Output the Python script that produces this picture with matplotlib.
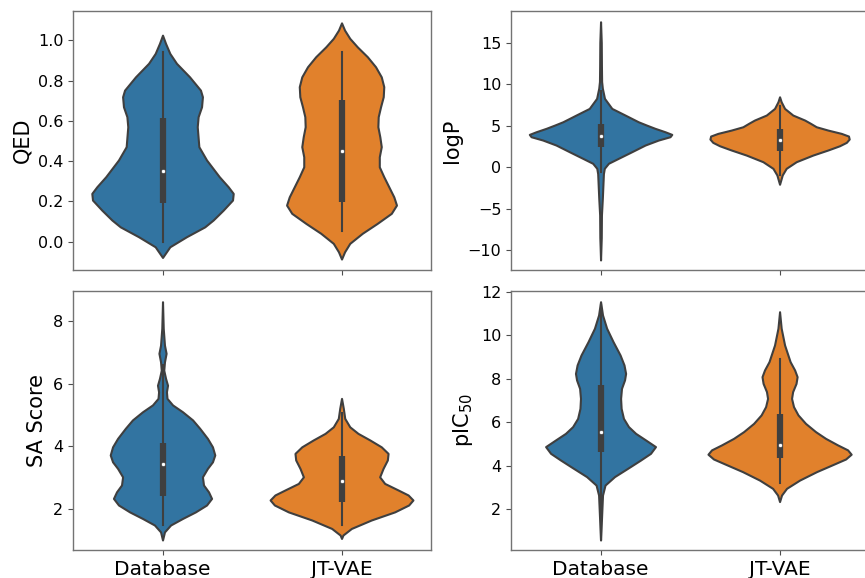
import numpy as np
import matplotlib
matplotlib.use("Agg")
from matplotlib import pyplot as plt

categories = ["Database", "JT-VAE"]
colors = ["#3274a1", "#e1812c"]
gray = "#3f3f3f"

# violin outlines: value levels and half widths (x units)
qed_db_y = [1.026, 0.985, 0.935, 0.886, 0.819, 0.753, 0.72, 0.67, 0.621, 0.571,
            0.472, 0.406, 0.323, 0.273, 0.24, 0.207, 0.157, 0.108, 0.074, 0.025,
            -0.025, -0.078]
qed_db_w = [0, 0.017, 0.041, 0.078, 0.151, 0.212, 0.223, 0.218, 0.199, 0.194,
            0.203, 0.246, 0.317, 0.367, 0.395, 0.391, 0.339, 0.283, 0.236, 0.134,
            0.041, 0]
qed_jt_y = [1.087, 1.051, 1.01, 0.968, 0.919, 0.869, 0.819, 0.77, 0.72, 0.67,
            0.621, 0.571, 0.521, 0.472, 0.422, 0.372, 0.323, 0.273, 0.223, 0.182,
            0.141, 0.091, 0.042, -0.008, -0.05, -0.086]
qed_jt_w = [0, 0.017, 0.046, 0.088, 0.144, 0.19, 0.222, 0.236, 0.233, 0.218,
            0.205, 0.203, 0.214, 0.222, 0.211, 0.211, 0.236, 0.264, 0.292, 0.307,
            0.278, 0.199, 0.116, 0.046, 0.017, 0]

logp_db_y = [17.5, 15, 12, 10.3, 9.5, 8.27, 7.06, 6.26, 5.45, 5.05, 4.66, 4.25,
             3.93, 3.65, 3.25, 2.65, 1.84, 1.04, 0.45, -0.16, -0.8, -1.77, -3.77,
             -5.78, -8.5, -11.2]
logp_db_w = [0, 0.004, 0.005, 0.006, 0.01, 0.022, 0.063, 0.137, 0.211, 0.257,
             0.304, 0.36, 0.398, 0.388, 0.323, 0.249, 0.174, 0.099, 0.044, 0.021,
             0.016, 0.014, 0.01, 0.005, 0.004, 0]
logp_jt_y = [8.46, 7.86, 7.06, 6.26, 5.66, 5.26, 4.85, 4.45, 4.05, 3.73, 3.37,
             2.97, 2.56, 2.05, 1.44, 0.64, -0.16, -0.96, -1.56, -2.08]
logp_jt_w = [0, 0.009, 0.028, 0.074, 0.14, 0.173, 0.205, 0.27, 0.345, 0.385,
             0.389, 0.373, 0.335, 0.27, 0.186, 0.093, 0.037, 0.015, 0.007, 0]

sa_db_y = [8.62, 7.77, 7.23, 6.97, 6.7, 6.43, 6.17, 5.95, 5.74, 5.53, 5.32, 5.1,
           4.84, 4.57, 4.25, 3.98, 3.72, 3.5, 3.29, 3.02, 2.76, 2.54, 2.33, 2.12,
           1.9, 1.69, 1.48, 1.26, 1.0]
sa_db_w = [0, 0.004, 0.011, 0.02, 0.011, 0.007, 0.017, 0.028, 0.022, 0.025,
           0.056, 0.112, 0.168, 0.208, 0.251, 0.279, 0.292, 0.279, 0.251, 0.223,
           0.229, 0.257, 0.274, 0.246, 0.184, 0.112, 0.045, 0.011, 0]
sa_jt_y = [5.53, 5.21, 4.89, 4.62, 4.41, 4.2, 3.98, 3.77, 3.56, 3.29, 3.02, 2.81,
           2.6, 2.44, 2.28, 2.12, 1.9, 1.64, 1.37, 1.16, 1.05]
sa_jt_w = [0, 0.01, 0.018, 0.046, 0.092, 0.158, 0.222, 0.26, 0.256, 0.232,
           0.213, 0.241, 0.316, 0.372, 0.399, 0.375, 0.297, 0.166, 0.055, 0.008, 0]

pic_db_y = [11.54, 10.93, 10.32, 9.7, 9.09, 8.63, 8.24, 7.94, 7.55, 7.09, 6.63,
            6.17, 5.79, 5.48, 5.18, 4.87, 4.56, 4.25, 3.87, 3.49, 3.1, 2.64, 1.88,
            1.11, 0.57]
pic_db_w = [0, 0.011, 0.034, 0.07, 0.109, 0.131, 0.14, 0.134, 0.117, 0.112,
            0.115, 0.128, 0.156, 0.196, 0.251, 0.307, 0.279, 0.223, 0.151, 0.078,
            0.025, 0.011, 0.007, 0.003, 0]
pic_jt_y = [11.08, 10.32, 9.55, 8.78, 8.4, 8.09, 7.78, 7.4, 7.09, 6.71, 6.33,
            5.94, 5.56, 5.25, 4.95, 4.72, 4.52, 4.3, 4.02, 3.72, 3.33, 2.95, 2.64,
            2.34]
pic_jt_w = [0, 0.009, 0.028, 0.059, 0.084, 0.098, 0.092, 0.073, 0.067, 0.078,
            0.103, 0.145, 0.201, 0.257, 0.324, 0.38, 0.4, 0.369, 0.291, 0.207,
            0.112, 0.039, 0.011, 0]

# inner box: lower whisker, q1, median, q3, upper whisker
qed_box = [[0.0, 0.19, 0.351, 0.613, 0.943], [0.055, 0.199, 0.45, 0.704, 0.944]]
logp_box = [[-0.56, 2.45, 3.77, 5.17, 9.2], [-0.96, 1.96, 3.29, 4.53, 7.4]]
sa_box = [[1.48, 2.42, 3.42, 4.11, 6.6], [1.48, 2.22, 2.88, 3.69, 5.05]]
pic_box = [[0.6, 4.61, 5.53, 7.71, 11.4], [3.18, 4.33, 4.95, 6.36, 8.9]]

panels = [
    ("QED", [(qed_db_y, qed_db_w), (qed_jt_y, qed_jt_w)], qed_box,
     (-0.14, 1.146), [0.0, 0.2, 0.4, 0.6, 0.8, 1.0]),
    ("logP", [(logp_db_y, logp_db_w), (logp_jt_y, logp_jt_w)], logp_box,
     (-12.4, 18.8), [-10, -5, 0, 5, 10, 15]),
    ("SA Score", [(sa_db_y, sa_db_w), (sa_jt_y, sa_jt_w)], sa_box,
     (0.68, 8.96), [2, 4, 6, 8]),
    ("pIC$_{50}$", [(pic_db_y, pic_db_w), (pic_jt_y, pic_jt_w)], pic_box,
     (0.11, 12.03), [2, 4, 6, 8, 10, 12]),
]

fig = plt.figure(figsize=(8.65, 5.78), dpi=100)
rects = [[0.0844, 0.533, 0.4139, 0.448],
         [0.5908, 0.533, 0.4139, 0.448],
         [0.0844, 0.0484, 0.4139, 0.448],
         [0.5908, 0.0484, 0.4139, 0.448]]

for i, (label, shapes, boxes, ylim, yticks) in enumerate(panels):
    ax = fig.add_axes(rects[i])
    for j, (ys, ws) in enumerate(shapes):
        ys = np.array(ys)
        ws = np.array(ws)
        ax.fill_betweenx(ys, j - ws, j + ws, facecolor=colors[j],
                         edgecolor=gray, linewidth=1.5, zorder=1)
        lo, q1, med, q3, hi = boxes[j]
        ax.plot([j, j], [lo, hi], color=gray, linewidth=1.5, zorder=2)
        ax.plot([j, j], [q1, q3], color=gray, linewidth=4.5,
                solid_capstyle="butt", zorder=2)
        ax.scatter([j], [med], color="white", edgecolor=gray, s=9, zorder=3,
                   linewidth=0.5)
    ax.set_xlim(-0.5, 1.5)
    ax.set_ylim(*ylim)
    ax.set_yticks(yticks)
    ax.set_xticks([0, 1])
    if i < 2:
        ax.set_xticklabels([])
    else:
        ax.set_xticklabels(categories, fontsize=14.5)
    ax.tick_params(axis="y", labelsize=11.5, color="0.3")
    ax.tick_params(axis="x", color="0.3")
    ax.set_ylabel(label, fontsize=15)
    for s in ax.spines.values():
        s.set_color("0.45")
        s.set_linewidth(1.0)

fig.savefig("out.png", dpi=100)
